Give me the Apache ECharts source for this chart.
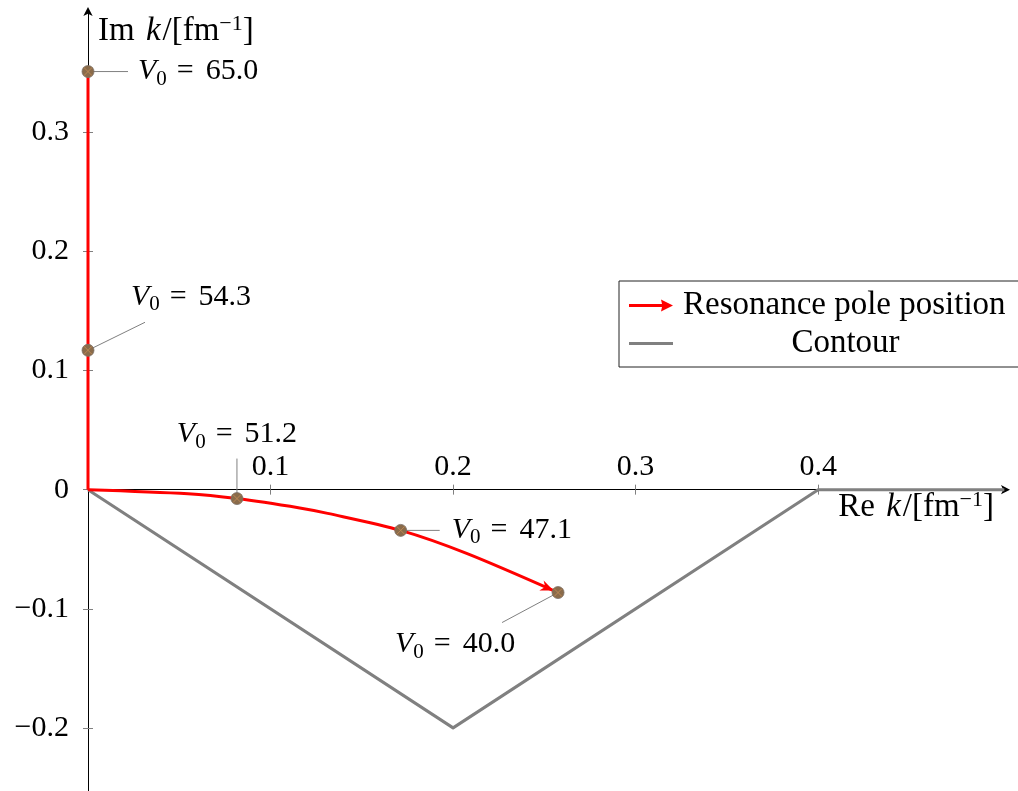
<!DOCTYPE html>
<html>
<head>
<meta charset="utf-8">
<script src="https://cdn.jsdelivr.net/npm/echarts@6/dist/echarts.min.js"></script>
<style>
  html, body { margin: 0; padding: 0; background: #fff; }
  #chart { width: 1018px; height: 791px; }
</style>
</head>
<body>
<div id="chart"></div>
<script>
// Resonance pole trajectory in the complex k plane (Re k, Im k in fm^-1)
const poleRe = [0, 0, 0, 0.0548, 0.0816, 0.1160, 0.1313, 0.1713, 0.2074, 0.2575];
const poleIm = [0.351, 0.117, 0, -0.0034, -0.0075, -0.0154, -0.0199, -0.0342, -0.0535, -0.0864];

// Labelled potential depths V0 along the trajectory
const markRe = [0, 0, 0.0816, 0.1713, 0.2575];
const markIm = [0.351, 0.117, -0.0075, -0.0342, -0.0864];
const markV0 = ['65.0', '54.3', '51.2', '47.1', '40.0'];

// Integration contour
const contourRe = [0, 0.2, 0.4, 0.502];
const contourIm = [0, -0.2, 0, 0];

// Axis ticks
const xTicks = [0.1, 0.2, 0.3, 0.4];
const yTicks = [-0.2, -0.1, 0, 0.1, 0.2, 0.3];

// ---------------------------------------------------------------------------
const SERIF = '"Liberation Serif", "Times New Roman", serif';
const FS = 30;
const FS_TXT = 33;
const RED = '#ff0000';
const GREY = '#808080';

// Pin line end and label anchor relative to each marker (pixels)
const pinLayout = [
  { line: [40, 0],   text: [50, 0],    align: 'left' },
  { line: [57, -28], text: [103, -53], align: 'center' },
  { line: [0, -40],  text: [0, -64],   align: 'center' },
  { line: [39, 0],   text: [51, 0],    align: 'left' },
  { line: [-56, 30], text: [-103, 52], align: 'center' }
];

function makeRich(fs) {
  return {
    t: { fontFamily: SERIF, fontSize: fs, lineHeight: 36, color: '#000' },
    i: { fontFamily: SERIF, fontSize: fs, fontStyle: 'italic', lineHeight: 36, color: '#000' },
    k: { fontFamily: SERIF, fontSize: fs, fontStyle: 'italic', lineHeight: 36, color: '#000', padding: [0, 2, 0, 3] },
    e: { fontFamily: SERIF, fontSize: fs, lineHeight: 36, color: '#000', padding: [0, 12, 0, 10] },
    s: { fontFamily: SERIF, fontSize: 21, lineHeight: 21, verticalAlign: 'bottom', color: '#000' },
    p: { fontFamily: SERIF, fontSize: 22, lineHeight: 18, verticalAlign: 'top', color: '#000' }
  };
}
const mathRich = makeRich(FS);
const nameRich = makeRich(FS_TXT);

// Split the trajectory into the part on the imaginary axis and the curved part
const lastOnAxis = poleRe.lastIndexOf(0);
const axisPart = [];
for (let i = 0; i <= lastOnAxis; i++) axisPart.push([poleRe[i], poleIm[i]]);
const curvePart = [];
for (let i = lastOnAxis; i < poleRe.length; i++) curvePart.push([poleRe[i], poleIm[i]]);
const contour = contourRe.map((x, i) => [x, contourIm[i]]);
const marks = markRe.map((x, i) => [x, markIm[i], i]);
const nEnd = curvePart.length;
const arrowSeg = [[curvePart[nEnd - 2][0], curvePart[nEnd - 2][1], curvePart[nEnd - 1][0], curvePart[nEnd - 1][1]]];

function tickText(v) {
  if (v === 0) return '0';
  const s = String(+Math.abs(v).toFixed(3));
  return (v < 0 ? '\u2212' : '') + s;
}

const ARROW_ICON = 'path://M0,4.5L33,4.5L32,0L44,6L32,12L33,7.5L0,7.5Z';
const BAR_ICON = 'path://M0,0L0,0M44,12L44,12M0,4.5L44,4.5L44,7.5L0,7.5Z';

const xMin = 0, xMax = 0.504, yMin = -0.253, yMax = 0.401;

const chart = echarts.init(document.getElementById('chart'), null, { renderer: 'canvas' });

const tickStyle = { color: GREY, width: 1 };

const option = {
  animation: false,
  backgroundColor: '#fff',
  grid: { left: 88, right: 10, top: 12, bottom: 0, containLabel: false, outerBoundsMode: 'none' },
  xAxis: [
    {
      type: 'value', min: xMin, max: xMax, position: 'bottom',
      name: '{t|Re }{k|k}{t|/[fm}{p|\u22121}{t|]}',
      nameLocation: 'end', nameGap: -14,
      nameTextStyle: { align: 'right', verticalAlign: 'top', rich: nameRich },
      axisLine: { show: true, onZero: false, lineStyle: { color: '#000', width: 1 },
                  symbol: ['none', 'arrow'], symbolSize: [7, 9], symbolOffset: [0, 2] },
      axisTick: { show: true, customValues: xTicks, length: 5, lineStyle: tickStyle },
      axisLabel: { show: true, customValues: xTicks, inside: true, margin: 8, formatter: tickText,
                   fontFamily: SERIF, fontSize: FS, color: '#000' },
      splitLine: { show: false }
    },
    {
      type: 'value', min: xMin, max: xMax, position: 'bottom',
      axisLine: { show: false, onZero: false },
      axisTick: { show: true, inside: true, customValues: xTicks, length: 5, lineStyle: tickStyle },
      axisLabel: { show: false },
      splitLine: { show: false }
    }
  ],
  yAxis: [
    {
      type: 'value', min: yMin, max: yMax, position: 'left',
      name: '{t|Im }{k|k}{t|/[fm}{p|\u22121}{t|]}',
      nameLocation: 'end', nameGap: -19,
      nameTextStyle: { align: 'left', verticalAlign: 'middle', rich: nameRich, padding: [0, 0, 0, 10] },
      axisLine: { show: true, onZero: false, lineStyle: { color: '#000', width: 1 },
                  symbol: ['none', 'arrow'], symbolSize: [7, 9], symbolOffset: [0, 5] },
      axisTick: { show: true, customValues: yTicks, length: 5, lineStyle: tickStyle },
      axisLabel: { show: true, customValues: yTicks, margin: 19, formatter: tickText,
                   fontFamily: SERIF, fontSize: FS, color: '#000' },
      splitLine: { show: false }
    },
    {
      type: 'value', min: yMin, max: yMax, position: 'left',
      axisLine: { show: false, onZero: false },
      axisTick: { show: true, inside: true, customValues: yTicks, length: 5, lineStyle: tickStyle },
      axisLabel: { show: false },
      splitLine: { show: false }
    }
  ],
  legend: {
    orient: 'vertical', left: 619, top: 281,
    padding: [8, 16, 7, 10], itemGap: 5, itemWidth: 44, itemHeight: 12,
    borderColor: '#222', borderWidth: 1, backgroundColor: '#fff',
    selectedMode: false,
    data: [{ name: 'Resonance pole position', icon: ARROW_ICON }, { name: 'Contour', icon: BAR_ICON }],
    formatter: n => (n === 'Contour' ? '{c|' + n + '}' : '{r|' + n + '}'),
    textStyle: {
      fontFamily: SERIF, fontSize: FS_TXT, color: '#000', padding: [0, 0, 0, 5],
      rich: {
        r: { fontFamily: SERIF, fontSize: FS_TXT, lineHeight: 30, width: 325, align: 'left', color: '#000' },
        c: { fontFamily: SERIF, fontSize: FS_TXT, lineHeight: 30, width: 325, align: 'center', color: '#000' }
      }
    }
  },
  series: [
    {
      name: 'Contour', type: 'line', data: contour, symbol: 'none', clip: false,
      lineStyle: { color: GREY, width: 3, join: 'round' }, itemStyle: { color: GREY }, z: 3
    },
    {
      name: 'Resonance pole position', type: 'line', data: axisPart, symbol: 'none', clip: false,
      lineStyle: { color: RED, width: 3 }, itemStyle: { color: RED }, z: 4
    },
    {
      name: 'Resonance pole position', type: 'line', data: curvePart, symbol: 'none', clip: false,
      smooth: 0.3, lineStyle: { color: RED, width: 3 }, itemStyle: { color: RED }, z: 4
    },
    {
      // arrow head at the end of the trajectory
      type: 'custom', data: arrowSeg, z: 5, silent: true,
      renderItem: function (params, api) {
        const a = api.coord([api.value(0), api.value(1)]);
        const b = api.coord([api.value(2), api.value(3)]);
        let dx = b[0] - a[0], dy = b[1] - a[1];
        const L = Math.hypot(dx, dy); dx /= L; dy /= L;
        const nx = -dy, ny = dx;
        const tip = [b[0] - dx * 5, b[1] - dy * 5];
        const len = 13, half = 5.5, notch = 4;
        const back = [tip[0] - dx * len, tip[1] - dy * len];
        const mid = [tip[0] - dx * (len - notch), tip[1] - dy * (len - notch)];
        return {
          type: 'polygon',
          shape: { points: [tip, [back[0] + nx * half, back[1] + ny * half], mid, [back[0] - nx * half, back[1] - ny * half]] },
          style: { fill: RED }
        };
      }
    },
    {
      // labelled markers with pin lines
      type: 'custom', data: marks, z: 6, silent: true,
      renderItem: function (params, api) {
        const p = api.coord([api.value(0), api.value(1)]);
        const k = api.value(2);
        const lay = pinLayout[k];
        const r = 6, c = r * 0.68;
        return {
          type: 'group',
          children: [
            { type: 'line', shape: { x1: p[0], y1: p[1], x2: p[0] + lay.line[0], y2: p[1] + lay.line[1] },
              style: { stroke: GREY, lineWidth: 1 } },
            { type: 'text', x: p[0] + lay.text[0], y: p[1] + lay.text[1],
              style: { text: '{i|V}{s|0}{e|=}{t|' + markV0[k] + '}', rich: mathRich,
                       align: lay.align, verticalAlign: 'middle' } },
            { type: 'circle', shape: { cx: p[0], cy: p[1], r: r },
              style: { fill: '#8a6b4a', stroke: '#7a7068', lineWidth: 0.8 } },
            { type: 'line', shape: { x1: p[0] - c, y1: p[1] - c, x2: p[0] + c, y2: p[1] + c },
              style: { stroke: '#c08a55', lineWidth: 0.9 } },
            { type: 'line', shape: { x1: p[0] - c, y1: p[1] + c, x2: p[0] + c, y2: p[1] - c },
              style: { stroke: '#c08a55', lineWidth: 0.9 } }
          ]
        };
      }
    }
  ]
};

chart.setOption(option);

// Place the real axis (line, ticks, labels) on Im k = 0
const zeroY = chart.convertToPixel({ yAxisIndex: 0 }, 0);
const bottomY = chart.convertToPixel({ yAxisIndex: 0 }, yMin);
const xOffset = zeroY - bottomY;
chart.setOption({ xAxis: [{ offset: xOffset }, { offset: xOffset }] });
</script>
</body>
</html>
